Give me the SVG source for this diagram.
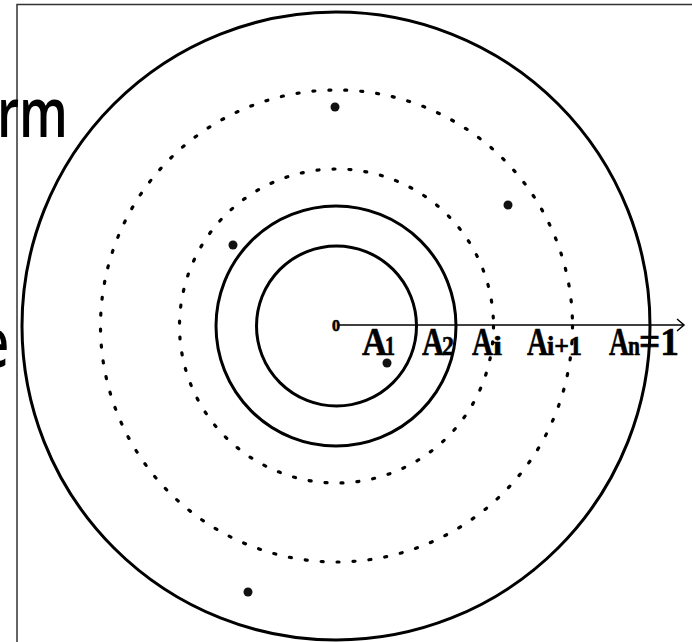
<svg xmlns="http://www.w3.org/2000/svg" width="692" height="642" viewBox="0 0 692 642">
<style>
.solid{fill:none;stroke:#000;stroke-width:3}
.dot{fill:none;stroke:#000;stroke-width:3.2;stroke-dasharray:2 14;stroke-linecap:round}
.pt{fill:#111}
.lbl{font-family:"Liberation Serif",serif;font-weight:bold;fill:#000;stroke:#000;stroke-width:0.6}
.big{font-family:"Open Sans",sans-serif;font-weight:600;font-size:69px;fill:#000}
</style>
<rect width="692" height="642" fill="#fff"/>
<g id="frame" fill="none" stroke="#333" stroke-width="1.5">
<path d="M17 642 V4.5 H692"/>
</g>
<g id="cut-text">
<text class="big" x="-3" y="137" textLength="71" lengthAdjust="spacingAndGlyphs">rm</text>
<text class="big" x="-19" y="367" textLength="28" lengthAdjust="spacingAndGlyphs">e</text>
</g>
<g id="circles">
<circle class="solid" cx="336" cy="326" r="314"/>
<circle class="dot" cx="336.5" cy="326" r="236"/>
<circle class="dot" cx="336.5" cy="326" r="157"/>
<circle class="solid" cx="336" cy="326" r="120"/>
<circle class="solid" cx="336.5" cy="326" r="80"/>
</g>
<g id="points">
<circle class="pt" cx="335" cy="107" r="4.5"/>
<circle class="pt" cx="508" cy="205" r="4.5"/>
<circle class="pt" cx="233" cy="245" r="4.5"/>
<circle class="pt" cx="387" cy="363" r="4.5"/>
<circle class="pt" cx="248" cy="592" r="4.5"/>
</g>
<g id="axis" fill="none" stroke="#000" stroke-width="1.5">
<path d="M338 325 H684"/>
<path d="M677 319 L684 325 L677 331"/>
</g>
<g id="labels" class="lbl">
<text x="332" y="330.5" font-size="16" textLength="8" lengthAdjust="spacingAndGlyphs">0</text>
<text x="362" y="355" font-size="41" textLength="25" lengthAdjust="spacingAndGlyphs">A</text>
<text x="385" y="355" font-size="27" textLength="10" lengthAdjust="spacingAndGlyphs">1</text>
<text x="422" y="355" font-size="41" textLength="22" lengthAdjust="spacingAndGlyphs">A</text>
<text x="442" y="355" font-size="27" textLength="12" lengthAdjust="spacingAndGlyphs">2</text>
<text x="472" y="355" font-size="41" textLength="21" lengthAdjust="spacingAndGlyphs">A</text>
<text x="493" y="355" font-size="27" textLength="9" lengthAdjust="spacingAndGlyphs">i</text>
<text x="527" y="355" font-size="41" textLength="21" lengthAdjust="spacingAndGlyphs">A</text>
<text x="547" y="355" font-size="27" textLength="35" lengthAdjust="spacingAndGlyphs">i+1</text>
<text x="609" y="355" font-size="41" textLength="20" lengthAdjust="spacingAndGlyphs">A</text>
<text x="628" y="355" font-size="27" textLength="12" lengthAdjust="spacingAndGlyphs">n</text>
<text x="639" y="355" font-size="41" textLength="40" lengthAdjust="spacingAndGlyphs">=1</text>
</g>
</svg>
